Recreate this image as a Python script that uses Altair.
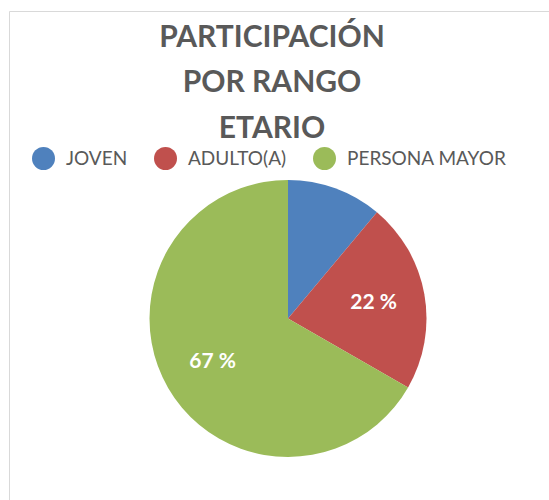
import altair as alt
import pandas as pd

categories = ["JOVEN", "ADULTO(A)", "PERSONA MAYOR"]
values = [11.1, 22.2, 66.7]
labels = ["", "22 %", "67 %"]
colors = ["#4f81bd", "#c0504d", "#9bbb59"]
title_lines = ["PARTICIPACIÓN", "POR RANGO", "ETARIO"]

df = pd.DataFrame({
    "cat": categories,
    "val": values,
    "label": labels,
    "order": list(range(len(categories))),
})

CX, CY, R = 288, 318.5, 138.5
FONT = "Lato"
GREY = "#595959"

base = alt.Chart(df).encode(
    theta=alt.Theta("val:Q", stack=True),
    order=alt.Order("order:Q"),
)

pie = base.mark_arc(radius=R, stroke=None).encode(
    x=alt.value(CX),
    y=alt.value(CY),
    color=alt.Color(
        "cat:N",
        sort=categories,
        scale=alt.Scale(domain=categories, range=colors),
        legend=alt.Legend(
            title=None,
            orient="none",
            direction="horizontal",
            legendX=32,
            legendY=147,
            padding=0,
            symbolType="circle",
            symbolSize=529,
            symbolStrokeWidth=0,
            symbolOpacity=1,
            labelFont=FONT,
            labelFontSize=19,
            labelColor=GREY,
            labelOffset=11,
            columnPadding=26,
            labelLimit=400,
        ),
    ),
)

text = base.mark_text(
    radius=87, font=FONT, fontSize=21, fontWeight="bold", color="white"
).encode(
    x=alt.value(CX),
    y=alt.value(CY),
    text="label:N",
)

title = alt.Chart(pd.DataFrame({"t": ["\n".join(title_lines)]})).mark_text(
    font=FONT, fontSize=30, fontWeight="bold", color=GREY,
    lineBreak="\n", lineHeight=45.5, baseline="alphabetic", align="center",
).encode(
    x=alt.value(272),
    y=alt.value(46.5),
    text="t:N",
)

border_left = alt.Chart(df.head(1)).mark_rule(color="#d9d9d9", strokeWidth=1).encode(
    x=alt.value(9.5), y=alt.value(11.5), y2=alt.value(500)
)
border_top = alt.Chart(df.head(1)).mark_rule(color="#d9d9d9", strokeWidth=1).encode(
    x=alt.value(9.5), x2=alt.value(549), y=alt.value(11.5)
)

chart = alt.layer(border_left, border_top, pie, text, title).properties(
    width=549,
    height=500,
    padding=0,
    autosize=alt.AutoSizeParams(type="none"),
    background="white",
).configure_view(stroke=None)

chart.save("out.html", embed_options={"renderer": "svg", "actions": False})
